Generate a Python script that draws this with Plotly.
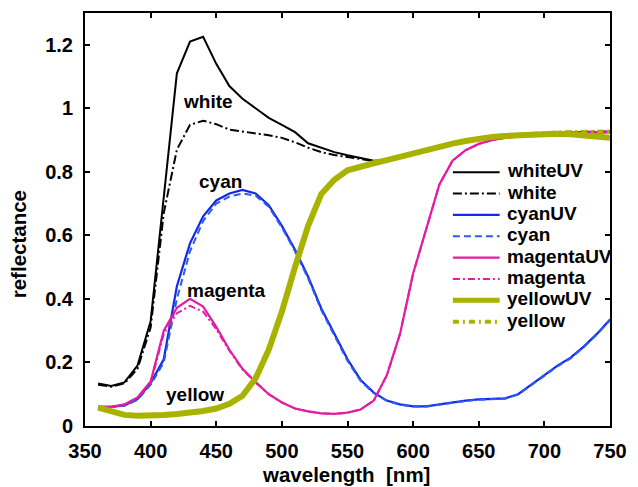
import plotly.graph_objects as go

wl = list(range(360, 751, 10))

white_uv = [0.134, 0.126, 0.137, 0.19, 0.33, 0.72, 1.11, 1.21, 1.225, 1.14, 1.07, 1.03, 1.0, 0.97,
            0.948, 0.925, 0.89, 0.875, 0.862, 0.852, 0.843, 0.835, 0.837, 0.847, 0.857, 0.866,
            0.877, 0.888, 0.897, 0.905, 0.91, 0.914, 0.917, 0.92, 0.922, 0.923, 0.924, 0.924,
            0.925, 0.925]
white = [0.13, 0.124, 0.134, 0.18, 0.31, 0.67, 0.87, 0.948, 0.961, 0.95, 0.933, 0.927, 0.922,
         0.915, 0.907, 0.893, 0.876, 0.862, 0.853, 0.846, 0.84, 0.834, 0.836, 0.846, 0.856,
         0.866, 0.877, 0.888, 0.898, 0.906, 0.911, 0.915, 0.918, 0.921, 0.923, 0.925, 0.926,
         0.926, 0.927, 0.927]
cyan_uv = [0.06, 0.06, 0.065, 0.085, 0.135, 0.21, 0.44, 0.575, 0.66, 0.71, 0.732, 0.743, 0.732,
           0.695, 0.63, 0.555, 0.47, 0.37, 0.29, 0.21, 0.145, 0.105, 0.08, 0.068, 0.062, 0.062,
           0.068, 0.075, 0.08, 0.084, 0.086, 0.087, 0.1, 0.13, 0.16, 0.19, 0.215, 0.25, 0.29,
           0.335]
cyan = [0.06, 0.06, 0.064, 0.082, 0.13, 0.2, 0.4, 0.55, 0.645, 0.7, 0.722, 0.732, 0.725, 0.69,
        0.625, 0.55, 0.465, 0.365, 0.285, 0.205, 0.142, 0.103, 0.079, 0.067, 0.061, 0.061,
        0.067, 0.074, 0.079, 0.083, 0.085, 0.086, 0.099, 0.128, 0.158, 0.188, 0.213, 0.248,
        0.288, 0.333]
magenta_uv = [0.06, 0.06, 0.068, 0.09, 0.14, 0.3, 0.372, 0.4, 0.376, 0.312, 0.24, 0.18, 0.138,
              0.1, 0.074, 0.055, 0.046, 0.04, 0.038, 0.042, 0.052, 0.08, 0.16, 0.29, 0.48, 0.62,
              0.76, 0.835, 0.868, 0.888, 0.9, 0.907, 0.912, 0.916, 0.92, 0.922, 0.923, 0.924,
              0.925, 0.925]
magenta = [0.06, 0.06, 0.067, 0.088, 0.135, 0.29, 0.355, 0.378, 0.36, 0.305, 0.237, 0.178,
           0.137, 0.1, 0.074, 0.055, 0.046, 0.04, 0.038, 0.042, 0.052, 0.08, 0.16, 0.29, 0.48,
           0.62, 0.76, 0.835, 0.868, 0.888, 0.9, 0.907, 0.912, 0.916, 0.92, 0.923, 0.925, 0.926,
           0.927, 0.927]
yellow_uv = [0.058, 0.045, 0.035, 0.032, 0.032, 0.035, 0.038, 0.041, 0.047, 0.055, 0.07, 0.095,
             0.15, 0.24, 0.36, 0.5, 0.63, 0.73, 0.775, 0.805, 0.818, 0.827, 0.837, 0.848, 0.86,
             0.87, 0.88, 0.889, 0.897, 0.904, 0.91, 0.913, 0.915, 0.918, 0.92, 0.92, 0.918,
             0.915, 0.911, 0.907]
yellow = [0.058, 0.045, 0.035, 0.032, 0.032, 0.035, 0.038, 0.041, 0.047, 0.055, 0.07, 0.095,
          0.15, 0.24, 0.36, 0.5, 0.63, 0.73, 0.775, 0.805, 0.818, 0.827, 0.837, 0.848, 0.86,
          0.87, 0.88, 0.889, 0.897, 0.904, 0.91, 0.914, 0.917, 0.92, 0.922, 0.924, 0.925,
          0.926, 0.927, 0.927]

series_names = ["whiteUV", "white", "cyanUV", "cyan", "magentaUV", "magenta", "yellowUV", "yellow"]
series_values = [white_uv, white, cyan_uv, cyan, magenta_uv, magenta, yellow_uv, yellow]
series_colors = ["#000000", "#000000", "#1228ea", "#2a5cf0", "#e41ca4", "#e41ca4", "#a8b300", "#a8b300"]
series_dash = ["solid", "9px,3px,2px,3px", "solid", "7px,4px", "solid", "7px,3px,2px,3px",
               "solid", "6px,4px,2px,4px"]
series_width = [2, 2, 2.2, 2, 2.2, 2, 6, 4]

labels = ["white", "cyan", "magenta", "yellow"]
label_x = [443.5, 453.5, 458, 434]
label_y = [1.02, 0.77, 0.425, 0.10]

FONT = "Liberation Sans"
TXT = "#000000"

fig = go.Figure()
for name, vals, color, dash, w in zip(series_names, series_values, series_colors,
                                      series_dash, series_width):
    fig.add_trace(go.Scatter(x=wl, y=vals, mode="lines", name=name, showlegend=False,
                             line=dict(color=color, dash=dash, width=w)))

for txt, lx, ly in zip(labels, label_x, label_y):
    fig.add_annotation(x=lx, y=ly, text=txt, showarrow=False,
                       font=dict(family=FONT, size=19, color=TXT, weight="bold"))

# manual legend (paper coordinates): plot area spans x 85..613 px, y 11..426 px
def px_x(p):
    return (p - 85) / 528.0

def px_y(p):
    return (426 - p) / 415.0

row0, step = 171.0, 21.45
for i, (name, color, dash, w) in enumerate(zip(series_names, series_colors, series_dash,
                                               series_width)):
    yy = row0 + step * i
    lw = min(w, 5)
    fig.add_shape(type="line", xref="paper", yref="paper",
                  x0=px_x(455), x1=px_x(502), y0=px_y(yy), y1=px_y(yy),
                  line=dict(color=color, dash=dash, width=lw))
    fig.add_annotation(xref="paper", yref="paper", x=px_x(507), y=px_y(yy - 1.5),
                       xanchor="left", yanchor="middle", text=name, showarrow=False,
                       font=dict(family=FONT, size=19, color=TXT, weight="bold"))

# axis titles
fig.add_annotation(xref="paper", yref="paper", x=px_x(347), y=px_y(475),
                   xanchor="center", yanchor="middle", text="wavelength  [nm]", showarrow=False,
                   font=dict(family=FONT, size=20.5, color=TXT, weight="bold"))
fig.add_annotation(xref="paper", yref="paper", x=px_x(19), y=px_y(243),
                   xanchor="center", yanchor="middle", text="reflectance", showarrow=False,
                   textangle=-90,
                   font=dict(family=FONT, size=20.5, color=TXT, weight="bold"))

axis_common = dict(showline=True, linecolor="black", linewidth=2, mirror="ticks",
                   ticks="inside", ticklen=5, tickwidth=2, tickcolor="black",
                   showgrid=False, zeroline=False,
                   tickfont=dict(family=FONT, size=20, color=TXT, weight="bold"))

fig.update_xaxes(range=[350, 750], dtick=50, tick0=350, ticklabelstandoff=6, **axis_common)
fig.update_yaxes(range=[0, 1.3], dtick=0.2, tick0=0, ticklabelstandoff=6, **axis_common)

fig.update_layout(
    width=638, height=487,
    margin=dict(l=85, r=25, t=11, b=61),
    plot_bgcolor="white", paper_bgcolor="white",
    showlegend=False,
)

fig.write_html("out.html")
